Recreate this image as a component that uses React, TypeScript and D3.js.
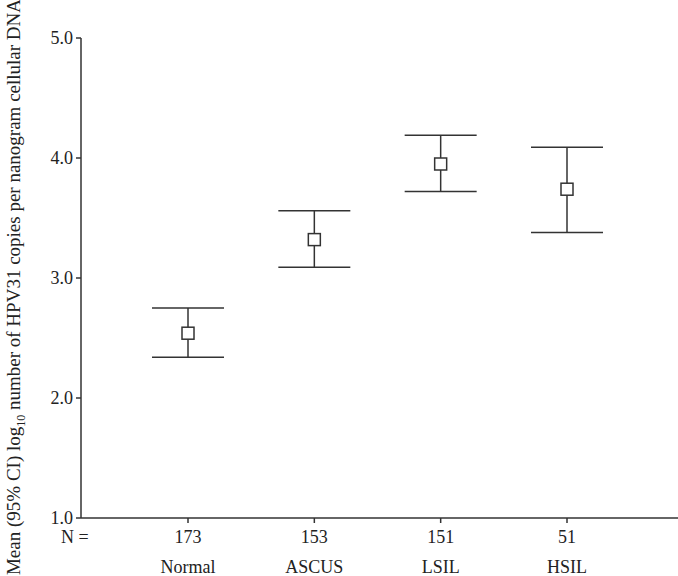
import React from "react";
import * as d3 from "d3";

const categories = ["Normal", "ASCUS", "LSIL", "HSIL"];
const nCounts = ["173", "153", "151", "51"];
const means = [2.54, 3.32, 3.95, 3.74];
const lowers = [2.34, 3.09, 3.72, 3.38];
const uppers = [2.75, 3.56, 4.19, 4.09];
const yTicks = [1, 2, 3, 4, 5];

const W = 678;
const H = 576;
const FONT = "'Liberation Serif', 'Times New Roman', serif";
const C = "#333";

export default function App() {
  const y = d3.scaleLinear().domain([1, 5]).range([518, 38]);
  const x = d3.scalePoint<string>().domain(categories).range([188, 567]);
  const axisX = 81;
  const capHalf = 36;
  const sq = 12;
  return (
    <svg width={W} height={H} style={{ position: "absolute", left: 0, top: 0, background: "#fff" }}>
      <g stroke={C} strokeWidth={1.5} fill="none">
        <line x1={axisX} x2={axisX} y1={y(5)} y2={y(1)} />
        <line x1={axisX} x2={W} y1={y(1)} y2={y(1)} />
        {yTicks.map((t) => (
          <line key={t} x1={axisX - 5} x2={axisX} y1={y(t)} y2={y(t)} />
        ))}
        {categories.map((c) => (
          <line key={c} x1={x(c)} x2={x(c)} y1={y(1)} y2={y(1) + 5} />
        ))}
      </g>
      <g fontFamily={FONT} fontSize={18} fill="#222">
        {yTicks.map((t) => (
          <text key={t} x={axisX - 8} y={y(t) + 6}textAnchor="end">
            {t.toFixed(1)}
          </text>
        ))}
        <text x={61} y={543}>N =</text>
        {categories.map((c, i) => (
          <g key={c}>
            <text x={x(c)} y={543} textAnchor="middle">{nCounts[i]}</text>
            <text x={x(c)} y={573} textAnchor="middle">{c}</text>
          </g>
        ))}
        <text transform={`translate(20, ${287}) rotate(-90)`} textAnchor="middle" fontSize={19}>
          Mean (95% CI) log
          <tspan fontSize={12} dy={5}>10</tspan>
          <tspan dy={-5}> number of HPV31 copies per nanogram cellular DNA</tspan>
        </text>
      </g>
      <g stroke={C} strokeWidth={1.5} fill="none">
        {categories.map((c, i) => {
          const cx = x(c) as number;
          return (
            <g key={c}>
              <line x1={cx} x2={cx} y1={y(uppers[i])} y2={y(lowers[i])} />
              <line x1={cx - capHalf} x2={cx + capHalf} y1={y(uppers[i])} y2={y(uppers[i])} />
              <line x1={cx - capHalf} x2={cx + capHalf} y1={y(lowers[i])} y2={y(lowers[i])} />
              <rect x={cx - sq / 2} y={y(means[i]) - sq / 2} width={sq} height={sq} fill="#fff" />
            </g>
          );
        })}
      </g>
    </svg>
  );
}
